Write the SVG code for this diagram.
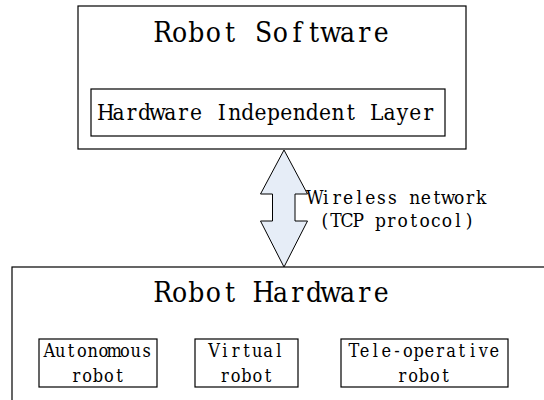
<svg xmlns="http://www.w3.org/2000/svg" width="544" height="400" viewBox="0 0 544 400">
  <style>
    .box { fill: #ffffff; stroke: #000000; stroke-width: 1.2; }
    /* serif glyphs set in fixed-width cells; each glyph is centred on its cell */
    .t { font-family: "DejaVu Serif", "Liberation Serif", serif; fill: #000000; text-anchor: middle; }
    .title { font-size: 28px; }
    .layer { font-size: 22.5px; }
    .label { font-size: 19px; }
    .item { font-size: 18px; }
    .link { fill: #e6edf7; stroke: #000000; stroke-width: 1; stroke-linejoin: miter; }
  </style>

  <!-- upper block: software stack -->
  <g id="robot-software">
    <rect class="box" x="78" y="6" width="388" height="143"/>
    <text class="t title" transform="translate(272,42) scale(0.9,1)" y="0" x="-121.33 -102.67 -84 -65.33 -46.67 -28 -9.33 9.33 28 46.67 65.33 84 102.67 121.33">Robot Software</text>
  </g>
  <g id="hardware-independent-layer">
    <rect class="box" x="91" y="89" width="354" height="47"/>
    <text class="t layer" transform="translate(267,120) scale(0.9,1)" y="0" x="-179.17 -164.83 -150.5 -136.17 -121.83 -107.5 -93.17 -78.83 -64.5 -50.17 -35.83 -21.5 -7.17 7.17 21.5 35.83 50.17 64.5 78.83 93.17 107.5 121.83 136.17 150.5 164.83 179.17">Hardware Independent Layer</text>
  </g>

  <!-- lower block: hardware platforms (runs past the page edge) -->
  <g id="robot-hardware">
    <rect class="box" x="12" y="267" width="560" height="160"/>
    <text class="t title" transform="translate(272,302) scale(0.9,1)" y="0" x="-121.33 -102.67 -84 -65.33 -46.67 -28 -9.33 9.33 28 46.67 65.33 84 102.67 121.33">Robot Hardware</text>
  </g>
  <g id="autonomous-robot">
    <rect class="box" x="39" y="339" width="118" height="48"/>
    <text class="t item" transform="translate(98,357) scale(0.9,1)" y="0" x="-54 -42 -30 -18 -6 6 18 30 42 54">Autonomous</text>
    <text class="t item" transform="translate(98,382) scale(0.9,1)" y="0" x="-24 -12 0 12 24">robot</text>
  </g>
  <g id="virtual-robot">
    <rect class="box" x="195" y="339" width="103" height="48"/>
    <text class="t item" transform="translate(246.5,357) scale(0.9,1)" y="0" x="-36 -24 -12 0 12 24 36">Virtual</text>
    <text class="t item" transform="translate(246.5,382) scale(0.9,1)" y="0" x="-24 -12 0 12 24">robot</text>
  </g>
  <g id="tele-operative-robot">
    <rect class="box" x="341" y="339" width="167" height="48"/>
    <text class="t item" transform="translate(424,357) scale(0.9,1)" y="0" x="-78 -66 -54 -42 -30 -18 -6 6 18 30 42 54 66 78">Tele-operative</text>
    <text class="t item" transform="translate(424,382) scale(0.9,1)" y="0" x="-24 -12 0 12 24">robot</text>
  </g>

  <!-- connectors -->
  <g id="connectors">
    <polygon class="link" points="284,150 307.5,194 295,194 295,221 307.5,221 284,267 260.5,221 272.5,221 272.5,194 260.5,194"/>
    <text class="t label" transform="translate(398,204) scale(0.9,1)" y="0" x="-92.5 -80.17 -67.83 -55.5 -43.17 -30.83 -18.5 -6.17 6.17 18.5 30.83 43.17 55.5 67.83 80.17 92.5">Wireless network</text>
    <text class="t label" transform="translate(397,227) scale(0.9,1)" y="0" x="-80.17 -67.83 -55.5 -43.17 -30.83 -18.5 -6.17 6.17 18.5 30.83 43.17 55.5 67.83 80.17">(TCP protocol)</text>
  </g>
</svg>
